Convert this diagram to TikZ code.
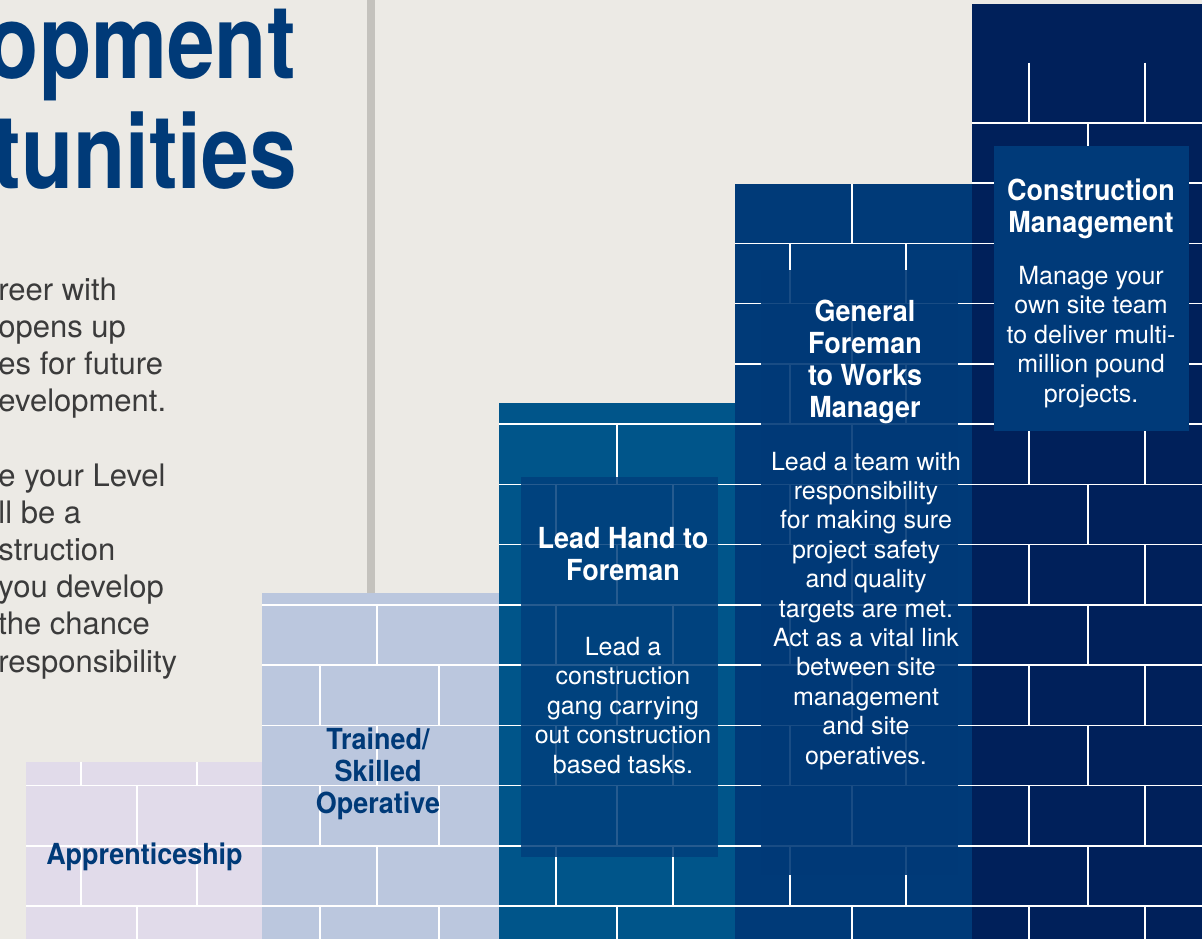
\documentclass[tikz,border=0pt]{standalone}
\usepackage{fontspec}
\setmainfont{TeX Gyre Heros}
\newfontfamily\headfont{TeX Gyre Heros}[FakeStretch=0.93]
\newfontfamily\bigfont{TeX Gyre Heros}[FakeStretch=0.83]

\definecolor{paper}{HTML}{ECEAE5}
\definecolor{divider}{HTML}{C4C2BD}
\definecolor{navy}{HTML}{003A78}
\definecolor{bodygray}{HTML}{3B3B3B}
\definecolor{wallA}{HTML}{E1DBEA}
\definecolor{wallB}{HTML}{BBC7DE}
\definecolor{wallC}{HTML}{00558A}
\definecolor{wallD}{HTML}{003A78}
\definecolor{wallE}{HTML}{00205A}
\definecolor{boxC}{HTML}{003F7C}
\definecolor{boxD}{HTML}{003977}
\definecolor{boxE}{HTML}{003A79}

\tikzset{
    brick/.style={draw=white, line width=0.75pt},
    bigtitle/.style={font=\bigfont\bfseries\fontsize{51.5}{60}\selectfont, text=navy, inner sep=0pt},
    intro/.style={font=\fontsize{15.5}{18.6}\selectfont, text=bodygray, align=left, anchor=base west, inner sep=0pt},
    stagetitle/.style={font=\headfont\bfseries\fontsize{14.5}{16}\selectfont, align=center, anchor=base, inner sep=0pt},
    stagetext/.style={font=\fontsize{12.5}{14.7}\selectfont, text=white, align=center, anchor=base, inner sep=0pt},
}

\begin{document}
\begin{tikzpicture}[x=0.5pt, y=-0.5pt]
    \useasboundingbox (0,0) rectangle (1202,939);
    \fill[paper] (0,0) rectangle (1202,939);
    \fill[divider] (367,0) rectangle (375,593);

    \node[bigtitle, anchor=base east] (title1) at (296,78) {opment};
    \node[bigtitle, anchor=base east] (title2) at (297,188) {tunities};

    \node[intro] (intro) at (-2,672) {reer with\\ opens up\\ es for future\\ evelopment.\\[18.6pt]
        e your Level\\ ll be a\\ struction\\ you develop\\ the chance\\ responsibility};

    % the wall, one column per step
    \foreach \l/\r/\t/\h/\n/\c/\ev/\od in {
        26/262/762/2/3/wallA/{137}/{81,197},
        262/499/593/5/5/wallB/{320,439}/{377},
        499/735/403/8/8/wallC/{617}/{556,673},
        735/972/184/11/12/wallD/{852}/{790,906},
        972/1202/4/13/14/wallE/{1029,1145}/{1088}}
    {
        \begin{scope}
            \clip (\l,\t) rectangle (\r,939);
            \fill[fill=\c] (\l,\t) rectangle (\r,939);
            \foreach \k in {0,...,\h}
                \draw[brick] (\l,906-60.25*\k) -- (\r,906-60.25*\k);
            \foreach \k in {0,2,...,\n}
                \foreach \x in \ev
                    \draw[brick] (\x,906-60.25*\k) -- ++(0,60.25);
            \foreach \k in {1,3,...,\n}
                \foreach \x in \od
                    \draw[brick] (\x,906-60.25*\k) -- ++(0,60.25);
        \end{scope}
    }

    \fill[boxC, opacity=.85] (521,477) rectangle (718,857);
    \fill[boxD, opacity=.9] (761,270) rectangle (958,875);
    \fill[boxE] (994,146) rectangle (1189,431);

    \node[stagetitle, text=navy] (appr) at (144.5,864) {Apprenticeship};
    \node[stagetitle, text=navy] (skilled) at (378,813) {Trained/\\Skilled\\Operative};
    \node[stagetitle, text=white] (leadhand) at (623,580) {Lead Hand to\\Foreman};
    \node[stagetext] (leadhandtxt) at (623,773) {Lead a\\construction\\gang carrying\\out construction\\based tasks.};
    \node[stagetitle, text=white] (foreman) at (865,417) {General\\Foreman\\to Works\\Manager};
    \node[stagetext] (foremantxt) at (866,764) {Lead a team with\\responsibility\\for making sure\\project safety\\and quality\\targets are met.\\Act as a vital link\\between site\\management\\and site\\operatives.};
    \node[stagetitle, text=white] (manage) at (1091,232) {Construction\\Management};
    \node[stagetext] (managetxt) at (1091,402) {Manage your\\own site team\\to deliver multi-\\million pound\\projects.};
\end{tikzpicture}
\end{document}
